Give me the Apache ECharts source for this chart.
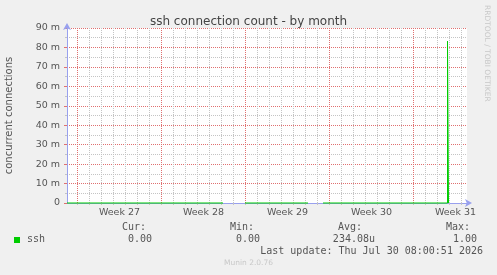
<!DOCTYPE html>
<html>
<head>
<meta charset="utf-8">
<script src="https://cdn.jsdelivr.net/npm/echarts@6/dist/echarts.min.js"></script>
<style>
  html, body { margin: 0; padding: 0; background: #f0f0f0; }
  #chart { width: 497px; height: 275px; }
</style>
</head>
<body>
<div id="chart"></div>
<script>
// ---- data ----
// x in hours since the left edge (Sun Jun 28 2026 03:00), y in milli-connections
const startTime = Date.UTC(2026, 5, 28, 3, 0, 0)
const totalHours = 800
const sshHours = [0, 312, 312, 356, 482, 482, 512, 761, 761, 763, 763]
const sshValues = [0, 0, '-', 0, 0, '-', 0, 0, 83.3, 83.3, 0]
const weekLabels = ['Week 27', 'Week 28', 'Week 29', 'Week 30', 'Week 31']
const yTicks = [0, 10, 20, 30, 40, 50, 60, 70, 80, 90]
const statLabels = ['Cur:', 'Min:', 'Avg:', 'Max:']
const statValues = ['0.00', '0.00', '234.08u', '1.00']
const lastUpdate = 'Last update: Thu Jul 30 08:00:51 2026'

// hourly categories for grid / ticks
const hours = []
for (let i = 0; i <= totalHours; i++) {
  const d = new Date(startTime + i * 3600 * 1000)
  hours.push(d.toISOString().slice(0, 13))
}
const dayOf = i => new Date(hours[i] + ':00:00Z').getUTCDay()
const isDayStart = i => hours[i].slice(11, 13) === '00'
const isMonday = i => isDayStart(i) && dayOf(i) === 1
// week label goes at thursday noon
const isMidWeek = i => hours[i].slice(11, 13) === '12' && dayOf(i) === 4
const midWeekIdx = []
const mondays = []
hours.forEach((h, i) => {
  if (isMidWeek(i)) midWeekIdx.push(i)
  if (isMonday(i)) mondays.push(i)
})

const sshData = sshHours.map((h, i) => [h, sshValues[i]])

const mono = '"DejaVu Sans Mono", monospace'
const sans = '"DejaVu Sans", sans-serif'
const textColor = '#555'
const minorGrid = '#c4c4c4'
const majorGrid = '#e07070'
const axisColor = '#98a0ee'

const chart = echarts.init(document.getElementById('chart'))

const legendGraphics = []
const labelRight = [146, 254, 362, 470]
const valueRight = [152, 260, 375, 477]
statLabels.forEach((s, i) => {
  legendGraphics.push({
    type: 'text', right: 497 - labelRight[i], top: 222,
    style: { text: s, font: '10px ' + mono, fill: textColor }
  })
  legendGraphics.push({
    type: 'text', right: 497 - valueRight[i], top: 234,
    style: { text: statValues[i], font: '10px ' + mono, fill: textColor }
  })
})

chart.setOption({
  backgroundColor: '#f0f0f0',
  animation: false,
  title: {
    text: 'ssh connection count - by month',
    left: 'center',
    top: 11,
    textStyle: { fontFamily: sans, fontSize: 12, fontWeight: 'normal', color: '#444' }
  },
  grid: {
    left: 67, top: 28, width: 400, height: 175,
    backgroundColor: '#fff', show: true, borderWidth: 0,
    outerBoundsMode: 'none', containLabel: false
  },
  xAxis: {
    type: 'category', data: hours, boundaryGap: false,
    axisLine: { show: true, onZero: false, symbol: ['none', 'arrow'], symbolSize: [6, 7], symbolOffset: [0, 5], lineStyle: { color: axisColor, width: 1 } },
    axisTick: { show: true, length: 2, interval: i => isDayStart(i), lineStyle: { color: minorGrid } },
    axisLabel: {
      show: true, interval: i => isMidWeek(i), margin: 5,
      fontFamily: sans, fontSize: 9.5, color: textColor,
      formatter: (v, i) => weekLabels[midWeekIdx.indexOf(i)] || ''
    },
    splitLine: { show: true, interval: i => isDayStart(i) && !isMonday(i), lineStyle: { color: minorGrid, type: [1, 1] } }
  },
  yAxis: {
    type: 'value', min: 0, max: 90, interval: 10,
    name: 'concurrent connections', nameLocation: 'middle', nameGap: 53,
    nameTextStyle: { fontFamily: sans, fontSize: 10, color: textColor },
    axisLine: { show: true, onZero: false, symbol: ['none', 'arrow'], symbolSize: [6, 7], symbolOffset: [0, 5], lineStyle: { color: axisColor } },
    axisTick: { show: true, length: 3, lineStyle: { color: majorGrid } },
    minorTick: { show: true, splitNumber: 2, length: 2, lineStyle: { color: minorGrid } },
    axisLabel: {
      margin: 7, fontFamily: sans, fontSize: 9.5, color: textColor,
      formatter: v => (yTicks.includes(v) ? (v === 0 ? '0' : v + ' m') : '')
    },
    splitLine: { show: true, lineStyle: { color: majorGrid, type: [1, 1] } },
    minorSplitLine: { show: true, lineStyle: { color: minorGrid, type: [1, 1] } }
  },
  series: [{
    name: 'ssh', type: 'line', data: sshData,
    showSymbol: false, clip: false, connectNulls: false, z: 5,
    lineStyle: { color: '#00cc00', width: 1 },
    // red week lines (monday 00:00)
    markLine: {
      silent: true, symbol: ['none', 'none'], animation: false,
      label: { show: false },
      lineStyle: { color: majorGrid, type: [1, 1], width: 1 },
      data: mondays.map(m => ({ xAxis: m }))
    }
  }],
  graphic: [
    {
      type: 'text', x: 491, y: 5, rotation: -Math.PI / 2,
      style: { text: 'RRDTOOL / TOBI OETIKER', font: '7.5px ' + sans, fill: '#c8c8c8', verticalAlign: 'top' }
    },
    { type: 'rect', left: 14, top: 237, shape: { width: 6, height: 6 }, style: { fill: '#00cc00' } },
    { type: 'text', left: 27, top: 234, style: { text: 'ssh', font: '10px ' + mono, fill: textColor } },
    ...legendGraphics,
    { type: 'text', right: 497 - 483, top: 246, style: { text: lastUpdate, font: '10px ' + mono, fill: textColor } },
    { type: 'text', left: 'center', top: 259, style: { text: 'Munin 2.0.76', font: '7.5px ' + sans, fill: '#c8c8c8' } }
  ]
})
</script>
</body>
</html>
